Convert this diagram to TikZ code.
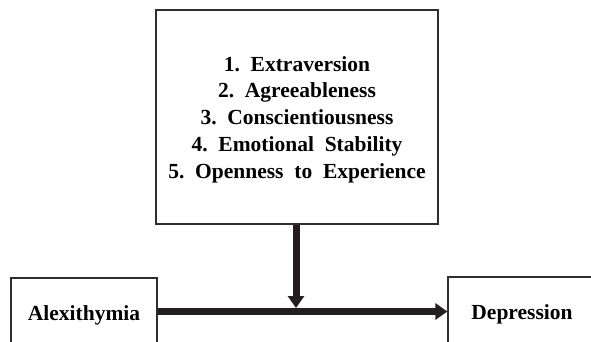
\documentclass[tikz,border=0pt]{standalone}
\usepackage{fontspec}
\setmainfont{Liberation Serif}
\usetikzlibrary{positioning, arrows.meta}
\definecolor{mdline}{HTML}{231F20}
\definecolor{mdbox}{HTML}{2E2E2E}
\tikzset{
  varbox/.style={rectangle, draw=mdbox, line width=1.2pt, fill=white,
    font=\bfseries\fontsize{21.5}{26.8}\selectfont, align=center, inner sep=0pt},
  fatarrow/.style={draw=mdline, line width=7pt,
    -{Triangle[length=12pt, width=16pt]}}
}

\begin{document}
\begin{tikzpicture}[x=1pt, y=-1pt]
  \useasboundingbox (0,0) rectangle (591,342);
  \clip (0,0) rectangle (591,342);
  % the five traits
  \node[varbox, minimum width=282pt, minimum height=214pt] (traits) at (297,117) {};
  \node[font=\bfseries\fontsize{21.5}{26.8}\selectfont, align=center] (list) at (297,119.5)
    {1.\ \ Extraversion\\
     2.\ \ Agreeableness\\
     3.\ \ Conscientiousness\\
     4.\ \ Emotional\ \ Stability\\
     5.\ \ Openness\ \ to\ \ Experience};
  \node[varbox, minimum width=146pt, minimum height=74pt] (alex) at (84,315) {Alexithymia};
  \node[varbox, minimum width=148pt, minimum height=74pt] (dep) at (522,314) {Depression};
  \coordinate (meet) at (296,308);
  \draw[fatarrow] (alex.east |- 0,311.5) -- (dep.west |- 0,311.5);
  \draw[fatarrow] (traits.south -| meet) -- (meet);
\end{tikzpicture}
\end{document}
